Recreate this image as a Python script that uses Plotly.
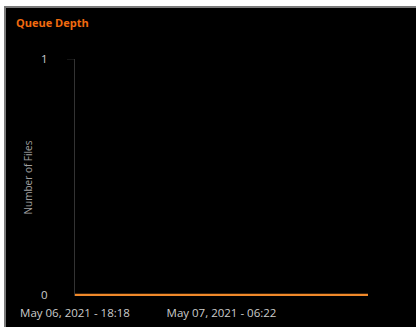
import plotly.graph_objects as go

times = ["2021-05-06 18:18", "2021-05-07 06:22", "2021-05-07 18:26"]
files = [0, 0, 0]
tick_vals = ["2021-05-06 18:18", "2021-05-07 06:22"]
tick_text = ["May 06, 2021 - 18:18", "May 07, 2021 - 06:22"]
y_ticks = [0, 1]

W, H = 416, 327
L, R, T, B = 75, 48, 59, 31
pw, ph = W - L - R, H - T - B

def px(x):
    return (x - L) / pw

def py(y):
    return (H - B - y) / ph

fig = go.Figure()
fig.add_trace(go.Scatter(x=times, y=files, mode="lines",
                         line=dict(color="#f0892a", width=2.5),
                         hoverinfo="skip", showlegend=False))

fig.add_shape(type="rect", xref="paper", yref="paper",
              x0=px(5), x1=px(430), y0=py(340), y1=py(7),
              fillcolor="#000000", line=dict(color="#7a7a7a", width=2),
              layer="below")
# short extension of the top gridline to the left of the axis
fig.add_shape(type="line", xref="paper", yref="y",
              x0=px(67), x1=0, y0=y_ticks[-1], y1=y_ticks[-1],
              line=dict(color="#2b2b2b", width=1), layer="below")

font_family = "Open Sans, Noto Sans, sans-serif"

fig.update_layout(
    width=W, height=H,
    margin=dict(l=L, r=R, t=T, b=B, autoexpand=False),
    paper_bgcolor="#ffffff",
    plot_bgcolor="rgba(0,0,0,0)",
    title=dict(text="<b>Queue Depth</b>", xref="container", yref="container",
               x=16 / W, xanchor="left", y=1 - 23 / H, yanchor="middle",
               font=dict(family=font_family, size=11, color="#f26b0f")),
    xaxis=dict(range=[times[0], times[-1]], tickvals=tick_vals, ticktext=tick_text,
               showgrid=False, zeroline=False, showline=False, automargin=False,
               tickfont=dict(family=font_family, size=11.5, color="#cccccc"),
               ticks="outside", ticklen=6, tickcolor="rgba(0,0,0,0)"),
    yaxis=dict(range=[-0.004, 1], tickvals=y_ticks, ticktext=["0", "1"],
               showgrid=True, gridcolor="#2b2b2b", gridwidth=1, automargin=False,
               zeroline=False, showline=True, linecolor="#333333", linewidth=1,
               ticks="outside", ticklen=24, tickcolor="rgba(0,0,0,0)",
               tickfont=dict(family=font_family, size=11.5, color="#cccccc"),
               title=dict(text="Number of Files", standoff=6,
                          font=dict(family=font_family, size=10, color="#a0a0a0"))),
)

fig.write_html("out.html", config={"displayModeBar": False},
               post_script="document.body.style.margin='0';")
